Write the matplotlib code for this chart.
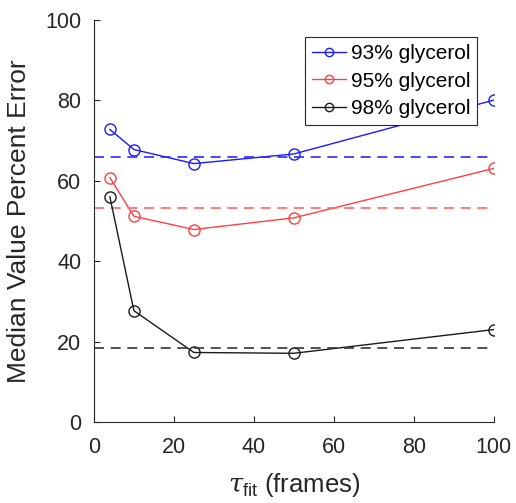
import matplotlib
matplotlib.use("Agg")
import matplotlib.pyplot as plt

plt.rcParams['font.family'] = ['Liberation Sans', 'DejaVu Sans']
plt.rcParams['mathtext.fontset'] = 'custom'
plt.rcParams['mathtext.rm'] = 'Liberation Sans'
plt.rcParams['mathtext.it'] = 'DejaVu Serif:italic'

tau_fit = [4, 10, 25, 50, 100]
err_93 = [72.8, 67.8, 64.3, 66.7, 80.1]
err_95 = [60.8, 51.2, 47.9, 50.8, 63.1]
err_98 = [56.0, 27.7, 17.3, 17.1, 23.0]
ref_93 = 66.0
ref_95 = 53.2
ref_98 = 18.5
labels = ['93% glycerol', '95% glycerol', '98% glycerol']
xticks = [0, 20, 40, 60, 80, 100]
yticks = [0, 20, 40, 60, 80, 100]

colors = ['#1a1aff', '#ff4040', '#1a1a1a']
dash_colors = ['#2a2aff', '#ff6666', '#333333']

fig = plt.figure(figsize=(5.16, 5.03), dpi=100)
ax = fig.add_axes([0.182, 0.161, 0.775, 0.799])

for y, ref, c, dc, lab in zip([err_93, err_95, err_98], [ref_93, ref_95, ref_98],
                              colors, dash_colors, labels):
    ax.plot(tau_fit, y, '-o', color=c, mfc='none', mec=c, ms=8, mew=1.0,
            lw=1.0, label=lab)
    ax.plot([0, 100], [ref, ref], '--', color=dc, lw=1.2, dashes=(6, 4))

ax.set_xlim(0, 100)
ax.set_ylim(0, 100)
ax.set_xticks(xticks)
ax.set_yticks(yticks)
ax.tick_params(direction='in', length=4, width=0.8, labelsize=15.5,
               colors='#262626')
ax.tick_params(axis='y', pad=9)
ax.tick_params(axis='x', pad=11)
for s in ['top', 'right']:
    ax.spines[s].set_visible(False)
for s in ['left', 'bottom']:
    ax.spines[s].set_color('#262626')
    ax.spines[s].set_linewidth(0.8)

ax.set_ylabel('Median Value Percent Error', fontsize=19, color='#262626', labelpad=10)
ax.set_xlabel(r'$\tau_{\mathrm{fit}}$ (frames)', fontsize=18.5, color='#262626', labelpad=9)

leg = ax.legend(loc='upper right', bbox_to_anchor=(0.959, 0.958), fontsize=15,
                handlelength=1.65, handletextpad=0.2, borderpad=0.35,
                labelspacing=0.4, fancybox=False, framealpha=1,
                edgecolor='#262626', borderaxespad=0, markerscale=0.75)
leg.get_frame().set_linewidth(0.8)

fig.savefig('out.png', dpi=100)
